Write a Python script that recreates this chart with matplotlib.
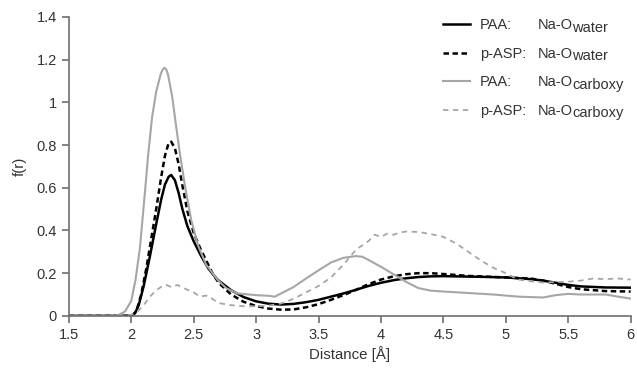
import numpy as np
import matplotlib
matplotlib.use("Agg")
import matplotlib.pyplot as plt
import matplotlib.ticker as ticker

plt.rcParams['font.family'] = ['Liberation Sans', 'DejaVu Sans']

# PAA: Na-O(water), solid black
x_paa_w = [1.5, 2.0, 2.03, 2.06, 2.1, 2.15, 2.2, 2.24, 2.27, 2.3, 2.32, 2.35, 2.38,
           2.41, 2.45, 2.5, 2.56, 2.62, 2.69, 2.8, 2.9, 3.0, 3.1, 3.2, 3.3, 3.4, 3.5,
           3.6, 3.7, 3.8, 3.9, 4.0, 4.1, 4.2, 4.3, 4.4, 4.5, 4.6, 4.8, 5.0, 5.2, 5.3,
           5.4, 5.5, 5.6, 5.8, 6.0]
y_paa_w = [0, 0, 0.012, 0.05, 0.14, 0.28, 0.43, 0.545, 0.615, 0.652, 0.66, 0.635,
           0.575, 0.5, 0.42, 0.35, 0.28, 0.22, 0.17, 0.12, 0.088, 0.068, 0.057, 0.053,
           0.056, 0.064, 0.075, 0.09, 0.105, 0.122, 0.14, 0.155, 0.167, 0.176, 0.182,
           0.185, 0.186, 0.185, 0.183, 0.18, 0.172, 0.165, 0.155, 0.145, 0.138, 0.133,
           0.132]

# p-ASP: Na-O(water), dashed black
x_asp_w = [1.5, 2.0, 2.04, 2.08, 2.12, 2.16, 2.2, 2.24, 2.27, 2.3, 2.32, 2.35, 2.38,
           2.41, 2.45, 2.5, 2.55, 2.6, 2.65, 2.7, 2.8, 2.9, 3.0, 3.1, 3.2, 3.3, 3.4,
           3.5, 3.6, 3.7, 3.8, 3.9, 4.0, 4.1, 4.2, 4.3, 4.4, 4.5, 4.7, 5.0, 5.2, 5.3,
           5.4, 5.5, 5.6, 5.8, 6.0]
y_asp_w = [0, 0, 0.02, 0.1, 0.22, 0.36, 0.5, 0.65, 0.75, 0.81, 0.816, 0.785, 0.71,
           0.61, 0.49, 0.39, 0.32, 0.26, 0.2, 0.155, 0.1, 0.066, 0.046, 0.034, 0.029,
           0.03, 0.04, 0.055, 0.075, 0.097, 0.122, 0.148, 0.17, 0.185, 0.195, 0.2, 0.2,
           0.196, 0.187, 0.18, 0.175, 0.165, 0.15, 0.135, 0.125, 0.116, 0.114]

# PAA: Na-O(carboxy), solid gray
x_paa_c = [1.5, 1.87, 1.9, 1.95, 2.0, 2.035, 2.07, 2.11, 2.135, 2.167, 2.2, 2.235,
           2.25, 2.265, 2.28, 2.295, 2.33, 2.35, 2.39, 2.43, 2.48, 2.535, 2.6, 2.69,
           2.76, 2.85, 3.0, 3.1, 3.15, 3.2, 3.3, 3.4, 3.5, 3.6, 3.7, 3.8, 3.85, 3.9,
           4.0, 4.1, 4.2, 4.3, 4.4, 4.5, 4.7, 4.9, 5.0, 5.1, 5.2, 5.3, 5.4, 5.5, 5.6,
           5.8, 5.9, 6.0]
y_paa_c = [0, 0, 0.005, 0.02, 0.07, 0.17, 0.32, 0.58, 0.75, 0.93, 1.05, 1.13, 1.152,
           1.162, 1.155, 1.13, 1.02, 0.93, 0.76, 0.61, 0.45, 0.33, 0.24, 0.17, 0.13,
           0.105, 0.097, 0.094, 0.09, 0.105, 0.135, 0.175, 0.213, 0.25, 0.272, 0.28,
           0.277, 0.262, 0.23, 0.195, 0.16, 0.13, 0.118, 0.114, 0.107, 0.1, 0.095,
           0.09, 0.088, 0.086, 0.097, 0.103, 0.1, 0.1, 0.09, 0.081]

# p-ASP: Na-O(carboxy), dashed gray
x_asp_c = [1.5, 1.95, 2.0, 2.05, 2.1, 2.15, 2.2, 2.25, 2.28, 2.32, 2.37, 2.42, 2.5, 2.55,
           2.6, 2.65, 2.7, 2.8, 2.9, 3.0, 3.1, 3.2, 3.3, 3.4, 3.5, 3.6, 3.7, 3.8, 3.9,
           3.95, 4.0, 4.05, 4.1, 4.15, 4.2, 4.3, 4.4, 4.5, 4.6, 4.7, 4.8, 4.9, 5.0, 5.1,
           5.2, 5.3, 5.4, 5.5, 5.6, 5.7, 5.8, 5.9, 6.0]
y_asp_c = [0, 0, 0.005, 0.02, 0.05, 0.09, 0.12, 0.14, 0.145, 0.135, 0.145, 0.13, 0.11,
           0.09, 0.095, 0.08, 0.06, 0.05, 0.045, 0.045, 0.048, 0.058, 0.08, 0.11, 0.14,
           0.18, 0.24, 0.31, 0.35, 0.38, 0.37, 0.385, 0.38, 0.39, 0.395, 0.393, 0.383,
           0.37, 0.34, 0.3, 0.26, 0.225, 0.2, 0.17, 0.162, 0.156, 0.158, 0.16, 0.165,
           0.175, 0.172, 0.175, 0.17]

polimeros = ["PAA:", "p-ASP:", "PAA:", "p-ASP:"]
pares = ["Na-O", "Na-O", "Na-O", "Na-O"]
subscritos = ["water", "water", "carboxy", "carboxy"]

gris = "#a6a6a6"
eixo = "#6e6e6e"
texto = "#333333"
tam = 10.5

fig = plt.figure(figsize=(6.37, 3.69), dpi=100)
ax = fig.add_axes([0.108, 0.144, 0.882, 0.81])

l1, = ax.plot(x_paa_w, y_paa_w, color="black", lw=1.8)
l2, = ax.plot(x_asp_w, y_asp_w, color="black", lw=1.8, ls=(0, (2.2, 1.4)))
l3, = ax.plot(x_paa_c, y_paa_c, color=gris, lw=1.5)
l4, = ax.plot(x_asp_c, y_asp_c, color=gris, lw=1.3, ls=(0, (3, 2.5)))

ax.set_xlim(1.5, 6)
ax.set_ylim(0, 1.4)
ax.xaxis.set_major_locator(ticker.MultipleLocator(0.5))
ax.yaxis.set_major_locator(ticker.MultipleLocator(0.2))
ax.xaxis.set_major_formatter(ticker.FormatStrFormatter("%g"))
ax.yaxis.set_major_formatter(ticker.FuncFormatter(lambda v, p: "%g" % round(v, 2)))

for lado in ["top", "right"]:
    ax.spines[lado].set_visible(False)
for lado in ["left", "bottom"]:
    ax.spines[lado].set_color(eixo)
    ax.spines[lado].set_linewidth(1.2)
ax.tick_params(direction="out", length=5, width=1.2, color=eixo,
               labelsize=10.5, labelcolor=texto)

ax.set_xlabel("Distance [Å]", fontsize=10.8, color=texto, labelpad=3)
ax.set_ylabel("f(r)", fontsize=10.8, color=texto, labelpad=7)

# legenda: linha + polimero; o par atomico vai ao lado, alinhado pela baseline
leg = ax.legend([l1, l2, l3, l4], polimeros, loc="upper left", frameon=False,
                fontsize=tam, handlelength=1.9, handletextpad=0.65,
                labelspacing=1.0, borderpad=0, borderaxespad=0,
                bbox_to_anchor=(0.6655, 0.996))
for t in leg.get_texts():
    t.set_color(texto)

fig.canvas.draw()
rend = fig.canvas.get_renderer()
W, H = fig.bbox.width, fig.bbox.height
x_par = 538
for t, par, sub in zip(leg.get_texts(), pares, subscritos):
    bx, by = t.get_transform().transform((0, 0))
    t1 = fig.text(x_par / W, by / H, par, fontsize=tam, color=texto,
                  va="baseline", ha="left")
    x1 = t1.get_window_extent(rend).x1
    fig.text((x1 - 0.5) / W, (by - 2.5) / H, sub, fontsize=tam, color=texto,
             va="baseline", ha="left")

plt.savefig("out.png", dpi=100)
